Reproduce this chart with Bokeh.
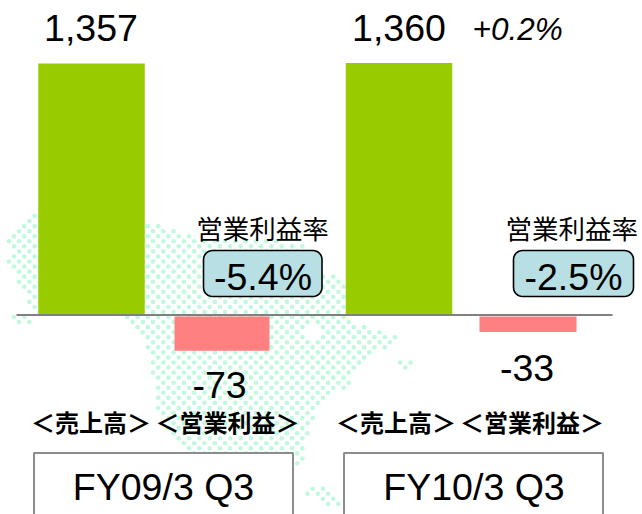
from bokeh.plotting import figure
from bokeh.models import Range1d
from bokeh.core.properties import value
from bokeh.embed import file_html
from bokeh.resources import INLINE
import math

# ---- data
periods = ["FY09/3 Q3", "FY10/3 Q3"]
sales = [1357, 1360]
profit = [-73, -33]
margin = ["-5.4%", "-2.5%"]
sales_labels = ["1,357", "1,360"]
profit_labels = ["-73", "-33"]
growth_label = "+0.2%"
margin_title = "営業利益率"
sales_title = "＜売上高＞"
profit_title = "＜営業利益＞"

W, H = 642, 514
SALES_SCALE = 251.5 / 1357
PROFIT_SCALE = 0.47
ZERO_S, ZERO_P = 314.5, 316

p = figure(width=W, height=H, output_backend="svg", toolbar_location=None,
           x_range=Range1d(0, W),
           y_range=Range1d(-(H - ZERO_S) / SALES_SCALE, ZERO_S / SALES_SCALE),
           min_border=0, outline_line_color=None, background_fill_color="white")
p.xaxis.visible = False
p.yaxis.visible = False
p.grid.visible = False
p.extra_y_ranges = {
    "profit": Range1d(-(H - ZERO_P) / PROFIT_SCALE, ZERO_P / PROFIT_SCALE),
    "px": Range1d(H, 0),
}

# ---- dotted map backdrop
main_shape = [(0, 262), (10, 255), (8, 240), (34, 212), (150, 222), (192, 236), (300, 242),
              (322, 272), (345, 278), (345, 318), (398, 336), (396, 346), (370, 350), (365, 360),
              (347, 386), (325, 396), (310, 425), (304, 445), (300, 472), (200, 470),
              (176, 445), (156, 405), (152, 368), (145, 345), (122, 316), (34, 316),
              (28, 300), (10, 270)]
extras = [[(10, 314), (32, 314), (32, 323), (10, 323)],
          [(395, 358), (411, 358), (411, 372), (395, 372)],
          [(305, 486), (322, 486), (342, 500), (342, 506), (325, 506), (305, 492)]]
lake = [(307, 322), (318, 322), (318, 341), (307, 341)]

def inside(x, y, poly):
    hit = False
    for i in range(len(poly)):
        (x1, y1), (x2, y2) = poly[i], poly[(i + 1) % len(poly)]
        if (y1 > y) != (y2 > y) and x < x1 + (y - y1) * (x2 - x1) / (y2 - y1):
            hit = not hit
    return hit

dx, dy = 10.3, 5.05
dot_x, dot_y = [], []
for r in range(-6, 60):
    y = 230.7 + r * dy
    off = 0 if r % 2 == 0 else dx / 2
    for c in range(-1, 45):
        x = 8.3 + c * dx + off
        if (inside(x, y, main_shape) and not inside(x, y, lake)) or any(inside(x, y, e) for e in extras):
            dot_x.append(x)
            dot_y.append(y)
p.scatter(dot_x, dot_y, y_range_name="px", size=4.6, color="#c0f9de", line_color=None)

# ---- bars
sales_x = [91, 398.5]
profit_x = [221.5, 527.5]
p.vbar(x=sales_x, top=sales, bottom=0, width=106.5, color="#99cc00", line_color=None)
p.vbar(x=profit_x, top=0, bottom=profit, width=[95, 97], color="#ff8080", line_color=None,
       y_range_name="profit")
p.line([16, 612], [0, 0], line_color="#808080", line_width=2)

AR = value("Liberation Sans")
CJK = value("Noto Sans CJK JP")

def txt(x, y, s, size, font=AR, style="normal", align="center"):
    p.text([x], [y], text=[s], y_range_name="px", text_font=font, text_font_size=f"{size}px",
           text_font_style=style, text_align=align, text_baseline="middle", text_color="#000000")

def rounded(x0, y0, x1, y1, r):
    xs, ys = [], []
    for cx, cy, a0 in [(x1 - r, y0 + r, -90), (x1 - r, y1 - r, 0), (x0 + r, y1 - r, 90), (x0 + r, y0 + r, 180)]:
        for k in range(9):
            a = math.radians(a0 + k * 90 / 8)
            xs.append(cx + r * math.cos(a))
            ys.append(cy + r * math.sin(a))
    return xs, ys

# ---- labels
for x, s in zip([90.5, 398.5], sales_labels):
    txt(x, 27.5, s, 37.5)
txt(472, 28, growth_label, 31.5, style="italic", align="left")

for x, y, s in zip([219, 526.5], [384.5, 367], profit_labels):
    txt(x, y, s, 37.5)

for x, m, box, mx in zip([262, 571.2], margin, [(203, 321.5), (513, 633)], [262.5, 573], ):
    txt(x, 226.5, margin_title, 26.5, font=CJK)
    xs, ys = rounded(box[0], 250, box[1], 296, 9)
    p.patch(xs, ys, y_range_name="px", fill_color="#b8dfe3", line_color="#000000", line_width=1.6)
    txt(mx, 276.5, m, 37.5)

for xa, xb in zip([90.5, 395.5], [227, 531.5]):
    txt(xa, 421, sales_title, 24, font=CJK, style="bold")
    txt(xb, 421, profit_title, 24, font=CJK, style="bold")

for x0, tx, s in zip([33.5, 343.5], [163, 473.5], periods):
    p.quad(left=[x0], right=[x0 + 259], top=[452.5], bottom=[530], y_range_name="px",
           fill_color="white", line_color="#8c8c8c", line_width=2)
    txt(tx, 486, s, 37.5)

open("out.html", "w").write(file_html(p, INLINE))
